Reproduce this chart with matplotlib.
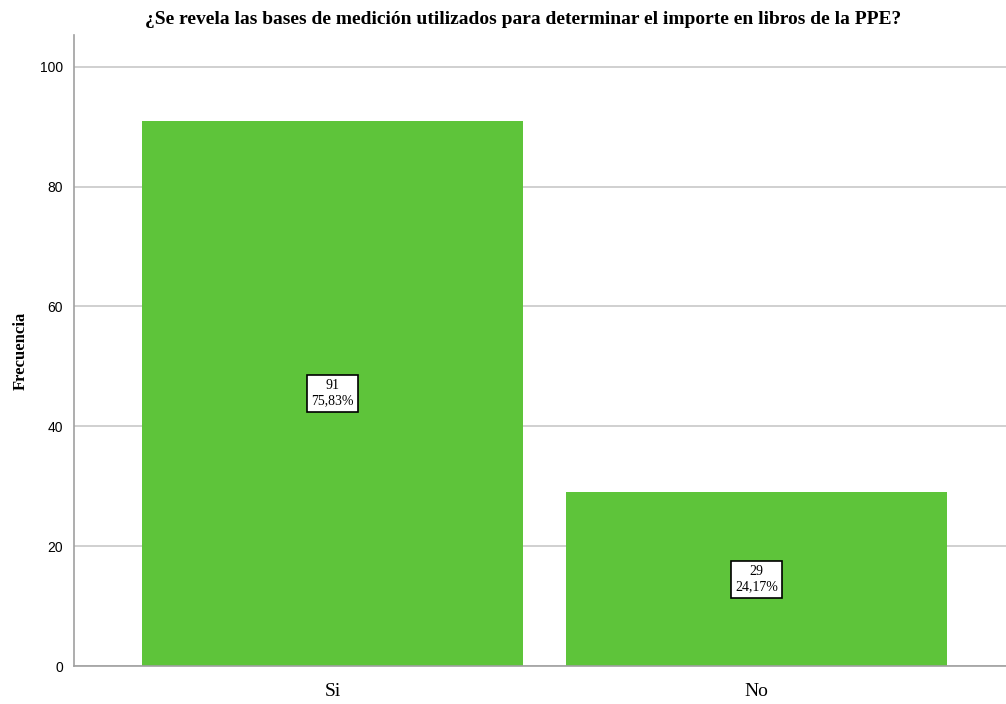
import matplotlib.pyplot as plt

# data
categorias = ['Si', 'No']
frecuencias = [91, 29]
porcentajes = ['75,83%', '24,17%']
titulo = '¿Se revela las bases de medición utilizados para determinar el importe en libros de la PPE?'

fig = plt.figure(figsize=(10.06, 7.04), dpi=100)
ax = fig.add_axes([74 / 1006, 1 - 666 / 704, (1015 - 74) / 1006, (666 - 35) / 704])

x = list(range(len(categorias)))
ax.bar(x, frecuencias, width=0.9, color='#5ec43a', zorder=2)

# value boxes at half height
for xi, f, p in zip(x, frecuencias, porcentajes):
    ax.text(xi, f / 2, f'{f}\n{p}', ha='center', va='center', fontsize=10,
            family='Liberation Serif', linespacing=1.25, zorder=3,
            bbox=dict(boxstyle='square,pad=0.3', fc='white', ec='black', lw=1.2))

ax.set_xlim(-0.61, 1.61)
ax.set_ylim(0, 105.3)
ax.set_yticks([0, 20, 40, 60, 80, 100])
ax.yaxis.grid(True, color='#c8c8c8', lw=1.2, zorder=0)
ax.set_axisbelow(True)
ax.tick_params(axis='both', length=0)
ax.tick_params(axis='y', labelsize=10, pad=8)
ax.set_xticks(x)
ax.set_xticklabels(categorias, fontsize=14, family='Liberation Serif')
ax.tick_params(axis='x', pad=12)
for lab in ax.get_yticklabels():
    lab.set_family('Liberation Sans')

for s in ['top', 'right']:
    ax.spines[s].set_visible(False)
ax.spines['left'].set_color('#a0a0a0')
ax.spines['bottom'].set_color('#a0a0a0')
ax.spines['left'].set_linewidth(1.2)
ax.spines['bottom'].set_linewidth(1.2)

ax.set_ylabel('Frecuencia', fontsize=12, fontweight='bold', family='Liberation Serif', labelpad=8)
fig.text(523 / 1006, 1 - 19 / 704, titulo, ha='center', va='center', fontsize=14,
         fontweight='bold', family='Liberation Serif')

fig.savefig('out.png', dpi=100)
